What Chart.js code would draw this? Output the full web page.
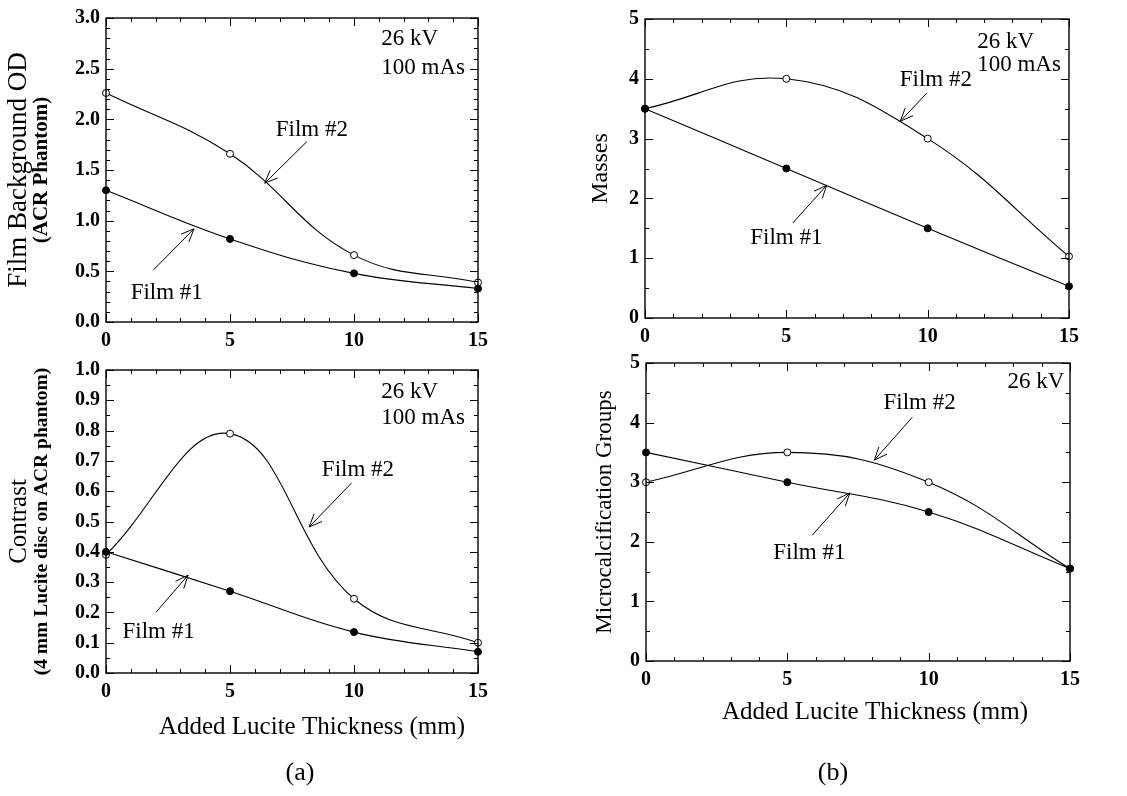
<!DOCTYPE html>
<html>
<head>
<meta charset="utf-8">
<script src="https://cdn.jsdelivr.net/npm/chart.js@4.4.0/dist/chart.umd.min.js"></script>
<style>
  body { margin: 0; background: #fff; width: 1127px; height: 796px; position: relative; overflow: hidden; }
  canvas { position: absolute; }
</style>
</head>
<body>
<canvas id="odChart"></canvas>
<canvas id="contrastChart"></canvas>
<canvas id="massChart"></canvas>
<canvas id="microChart"></canvas>
<script>
const SERIF = '"Liberation Serif", "Times New Roman", serif';

// added lucite thickness (mm)
const thickness = [0, 5, 10, 15];
const thicknessTicks = [0, 5, 10, 15];

// film background OD (ACR phantom)
const odFilm1 = [1.30, 0.82, 0.48, 0.33];
const odFilm2 = [2.26, 1.66, 0.66, 0.39];
const odTicks = [0, 0.5, 1.0, 1.5, 2.0, 2.5, 3.0];

// contrast of 4 mm lucite disc
const contrastFilm1 = [0.40, 0.27, 0.135, 0.07];
const contrastFilm2 = [0.39, 0.79, 0.245, 0.10];
const contrastTicks = [0, 0.1, 0.2, 0.3, 0.4, 0.5, 0.6, 0.7, 0.8, 0.9, 1.0];

// masses scored
const massFilm1 = [3.5, 2.5, 1.5, 0.53];
const massFilm2 = [3.5, 4.0, 3.0, 1.03];
const massTicks = [0, 1, 2, 3, 4, 5];

// microcalcification groups scored
const microFilm1 = [3.5, 3.0, 2.5, 1.55];
const microFilm2 = [3.0, 3.5, 3.0, 1.55];
const microTicks = [0, 1, 2, 3, 4, 5];

// layout of each panel: canvas box and plot area, in page pixels
const panels = [
  {
    id: "odChart", box: [0, 0, 545, 360], plot: [106, 15, 478, 322],
    film1: odFilm1, film2: odFilm2, yTicks: odTicks, yMax: 3, yMinor: 0.1, digits: 1,
    yTitle: "Film Background OD", yTitleSize: 27, yTitleX: 19,
    ySub: "(ACR Phantom)", ySubSize: 21, ySubX: 42,
    notes: [
      { text: "26 kV", x: 11.1, y: 2.79 },
      { text: "100 mAs", x: 11.1, y: 2.51 },
      { text: "Film #2", x: 8.3, y: 1.9, center: true },
      { text: "Film #1", x: 2.45, y: 0.29, center: true }
    ],
    arrows: [[8.1, 1.78, 6.4, 1.37], [1.9, 0.51, 3.55, 0.92]]
  },
  {
    id: "contrastChart", box: [0, 350, 545, 446], plot: [106, 370, 478, 673],
    film1: contrastFilm1, film2: contrastFilm2, yTicks: contrastTicks, yMax: 1, yMinor: 0.05, digits: 1,
    yTitle: "Contrast", yTitleSize: 25, yTitleX: 19,
    ySub: "(4 mm Lucite disc on ACR phantom)", ySubSize: 19.5, ySubX: 42,
    notes: [
      { text: "26 kV", x: 11.1, y: 0.927 },
      { text: "100 mAs", x: 11.1, y: 0.842 },
      { text: "Film #2", x: 10.16, y: 0.67, center: true },
      { text: "Film #1", x: 2.12, y: 0.135, center: true }
    ],
    arrows: [[9.9, 0.627, 8.19, 0.482], [2.01, 0.20, 3.31, 0.323]],
    xTitle: "Added Lucite Thickness (mm)", xTitleX: 312, xTitleDy: 54,
    caption: "(a)", captionX: 300, captionDy: 100
  },
  {
    id: "massChart", box: [560, 0, 567, 360], plot: [645, 19, 1069, 318],
    film1: massFilm1, film2: massFilm2, yTicks: massTicks, yMax: 5, yMinor: 0.5, digits: 0,
    yTitle: "Masses", yTitleSize: 24, yTitleX: 41,
    notes: [
      { text: "26 kV", x: 11.75, y: 4.62 },
      { text: "100 mAs", x: 11.75, y: 4.23 },
      { text: "Film #2", x: 10.29, y: 3.98, center: true },
      { text: "Film #1", x: 5.0, y: 1.34, center: true }
    ],
    arrows: [[9.97, 3.76, 9.03, 3.29], [5.23, 1.59, 6.43, 2.22]]
  },
  {
    id: "microChart", box: [560, 345, 567, 451], plot: [646, 363, 1070, 661],
    film1: microFilm1, film2: microFilm2, yTicks: microTicks, yMax: 5, yMinor: 0.5, digits: 0,
    yTitle: "Microcalcification Groups", yTitleSize: 23, yTitleX: 45,
    notes: [
      { text: "26 kV", x: 14.8, y: 4.68, right: true },
      { text: "Film #2", x: 9.68, y: 4.33, center: true },
      { text: "Film #1", x: 5.78, y: 1.81, center: true }
    ],
    arrows: [[9.42, 4.09, 8.08, 3.37], [5.88, 2.11, 7.21, 2.82]],
    xTitle: "Added Lucite Thickness (mm)", xTitleX: 315, xTitleDy: 51,
    caption: "(b)", captionX: 273, captionDy: 112
  }
];

// frame with inward ticks on all sides, titles, labels and arrows
const decor = {
  id: "decor",
  afterDraw(chart) {
    const p = chart.config.options.plugins.decor.panel;
    const ctx = chart.ctx;
    const a = chart.chartArea;
    const xs = chart.scales.x, ys = chart.scales.y;
    ctx.save();
    ctx.strokeStyle = "#000";
    ctx.fillStyle = "#000";
    ctx.lineWidth = 1.4;
    ctx.strokeRect(a.left, a.top, a.right - a.left, a.bottom - a.top);

    ctx.lineWidth = 1;
    ctx.beginPath();
    for (let i = 0; i <= 15; i++) {
      const len = thicknessTicks.includes(i) ? 8 : 4;
      const px = Math.round(xs.getPixelForValue(i)) + 0.5;
      ctx.moveTo(px, a.bottom); ctx.lineTo(px, a.bottom - len);
      ctx.moveTo(px, a.top); ctx.lineTo(px, a.top + len);
    }
    const n = Math.round(p.yMax / p.yMinor);
    for (let i = 0; i <= n; i++) {
      const v = i * p.yMinor;
      const major = p.yTicks.some(t => Math.abs(t - v) < 1e-6);
      const len = major ? 8 : 4;
      const py = Math.round(ys.getPixelForValue(v)) + 0.5;
      ctx.moveTo(a.left, py); ctx.lineTo(a.left + len, py);
      ctx.moveTo(a.right, py); ctx.lineTo(a.right - len, py);
    }
    ctx.stroke();

    // y axis title
    const cy = (a.top + a.bottom) / 2;
    ctx.textAlign = "center";
    ctx.textBaseline = "middle";
    ctx.save();
    ctx.translate(p.yTitleX, cy);
    ctx.rotate(-Math.PI / 2);
    ctx.font = p.yTitleSize + "px " + SERIF;
    ctx.fillText(p.yTitle, 0, 0);
    ctx.restore();
    if (p.ySub) {
      ctx.save();
      ctx.translate(p.ySubX, cy);
      ctx.rotate(-Math.PI / 2);
      ctx.font = "bold " + p.ySubSize + "px " + SERIF;
      ctx.fillText(p.ySub, 0, 0);
      ctx.restore();
    }

    // text notes
    ctx.font = "23px " + SERIF;
    p.notes.forEach(t => {
      ctx.textAlign = t.center ? "center" : (t.right ? "right" : "left");
      ctx.fillText(t.text, xs.getPixelForValue(t.x), ys.getPixelForValue(t.y));
    });

    // arrows
    ctx.lineWidth = 1;
    p.arrows.forEach(ar => {
      const x1 = xs.getPixelForValue(ar[0]), y1 = ys.getPixelForValue(ar[1]);
      const x2 = xs.getPixelForValue(ar[2]), y2 = ys.getPixelForValue(ar[3]);
      const ang = Math.atan2(y2 - y1, x2 - x1);
      ctx.beginPath();
      ctx.moveTo(x1, y1); ctx.lineTo(x2, y2);
      ctx.moveTo(x2 - 14 * Math.cos(ang - 0.4), y2 - 14 * Math.sin(ang - 0.4));
      ctx.lineTo(x2, y2);
      ctx.lineTo(x2 - 14 * Math.cos(ang + 0.4), y2 - 14 * Math.sin(ang + 0.4));
      ctx.stroke();
    });

    // x axis title and panel caption
    if (p.xTitle) {
      ctx.textAlign = "center";
      ctx.font = "25px " + SERIF;
      ctx.fillText(p.xTitle, p.xTitleX, a.bottom + p.xTitleDy);
      ctx.font = "26px " + SERIF;
      ctx.fillText(p.caption, p.captionX, a.bottom + p.captionDy);
    }
    ctx.restore();
  }
};

function makeChart(p) {
  const cv = document.getElementById(p.id);
  cv.style.left = p.box[0] + "px";
  cv.style.top = p.box[1] + "px";
  cv.width = p.box[2];
  cv.height = p.box[3];
  const padL = p.plot[0] - p.box[0];
  const padT = p.plot[1] - p.box[1];
  const padR = p.box[0] + p.box[2] - p.plot[2];
  const padB = p.box[1] + p.box[3] - p.plot[3];
  const tickFont = { family: SERIF, size: 20, weight: "bold" };

  const series = (vals, fill) => ({
    data: thickness.map((x, i) => ({ x: x, y: vals[i] })),
    borderColor: "#000",
    borderWidth: 1.1,
    pointRadius: 3.5,
    pointBorderWidth: 1,
    pointBorderColor: "#000",
    pointBackgroundColor: fill,
    tension: 0.4,
    clip: false
  });

  new Chart(cv, {
    type: "line",
    data: { datasets: [series(p.film1, "#000"), series(p.film2, "#fff")] },
    options: {
      responsive: false,
      animation: false,
      devicePixelRatio: 1,
      layout: { padding: { top: padT, right: padR, left: 0, bottom: 0 } },
      plugins: { legend: { display: false }, tooltip: { enabled: false }, decor: { panel: p } },
      scales: {
        x: {
          type: "linear", min: 0, max: 15,
          grid: { display: false, drawTicks: false }, border: { display: false },
          ticks: { color: "#000", font: tickFont, padding: 7, maxRotation: 0 },
          afterBuildTicks: s => { s.ticks = thicknessTicks.map(v => ({ value: v })); },
          afterFit: s => { s.height = padB; }
        },
        y: {
          type: "linear", min: 0, max: p.yMax,
          grid: { display: false, drawTicks: false }, border: { display: false },
          ticks: { color: "#000", font: tickFont, padding: 6, callback: v => v.toFixed(p.digits) },
          afterBuildTicks: s => { s.ticks = p.yTicks.map(v => ({ value: v })); },
          afterFit: s => { s.width = padL; }
        }
      }
    },
    plugins: [decor]
  });
}

panels.forEach(makeChart);
</script>
</body>
</html>
